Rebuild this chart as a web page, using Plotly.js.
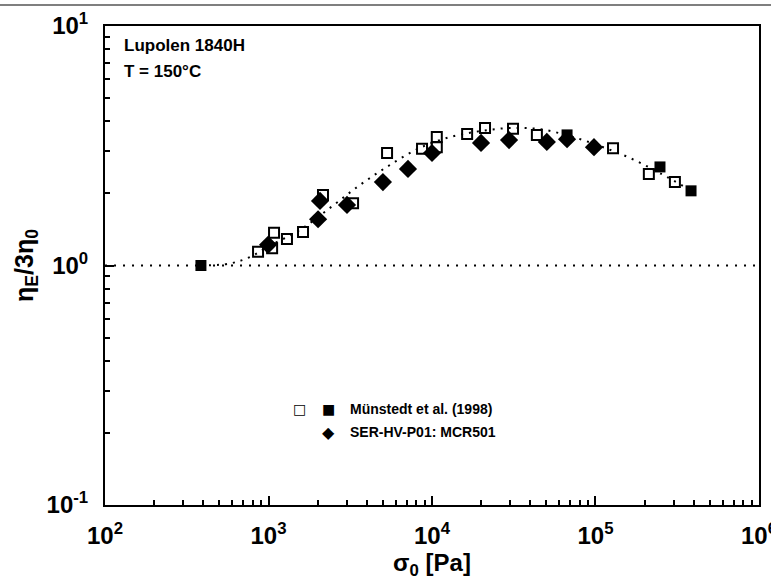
<!DOCTYPE html>
<html>
<head>
<meta charset="utf-8">
<script src="https://cdn.plot.ly/plotly-3.0.1.min.js"></script>
<style>html,body{margin:0;padding:0;background:#fff;}#chart{width:771px;height:588px;}</style>
</head>
<body>
<div id="chart"></div>
<script>
// Münstedt et al. (1998) – open squares
const munOpenX = [863, 1052, 1081, 1297, 1626, 2154, 3290, 5310, 8690, 10700, 10700, 16400, 21100, 31300, 43800, 128000, 212000, 306000];
const munOpenY = [1.14, 1.18, 1.37, 1.29, 1.38, 1.97, 1.82, 2.95, 3.07, 3.44, 3.12, 3.54, 3.75, 3.72, 3.51, 3.09, 2.41, 2.23];
// Münstedt et al. (1998) – filled squares
const munFillX = [386, 67000, 248000, 384000];
const munFillY = [1.00, 3.51, 2.58, 2.05];
// SER-HV-P01: MCR501 – filled diamonds
const serX = [994, 2010, 2065, 3020, 5010, 7130, 10000, 19950, 29600, 50400, 67000, 97900];
const serY = [1.22, 1.56, 1.86, 1.79, 2.23, 2.53, 2.95, 3.25, 3.34, 3.28, 3.37, 3.12];
// dotted guide curve through the data
const fitX = [386, 582, 771, 1021, 1560, 2378, 3630, 5530, 8450, 12900, 19700, 30000, 45800, 69900, 107000, 163000, 248000, 378000];
const fitY = [1.00, 1.02, 1.085, 1.21, 1.41, 1.74, 2.17, 2.63, 3.10, 3.44, 3.64, 3.75, 3.71, 3.47, 3.15, 2.81, 2.43, 2.07];
// reference line eta_E/3eta_0 = 1
const refX = [100, 1000000];
const refY = [1, 1];

const xTickVals = [100, 1000, 10000, 100000, 1000000];
const xTickText = ['<b>10<sup>2</sup></b>', '<b>10<sup>3</sup></b>', '<b>10<sup>4</sup></b>', '<b>10<sup>5</sup></b>', '<b>10<sup>6</sup></b>'];
const yTickVals = [0.1, 1, 10];
const yTickText = ['<b>10<sup>-1</sup></b>', '<b>10<sup>0</sup></b>', '<b>10<sup>1</sup></b>'];

const FONT = 'Liberation Sans, Arial, sans-serif';

const traces = [
  {x: refX, y: refY, mode: 'lines', line: {color: '#000', width: 2.2, dash: '2px,7px'}, hoverinfo: 'skip'},
  {x: fitX, y: fitY, mode: 'lines', line: {color: '#000', width: 2, dash: '2px,6px', shape: 'spline'}, hoverinfo: 'skip'},
  {x: munOpenX, y: munOpenY, mode: 'markers', marker: {symbol: 'square-open', size: 10, color: '#000', line: {width: 2, color: '#000'}}},
  {x: serX, y: serY, mode: 'markers', marker: {symbol: 'diamond', size: 14, color: '#000'}},
  {x: munFillX, y: munFillY, mode: 'markers', marker: {symbol: 'square', size: 11, color: '#000'}}
];

const layout = {
  width: 771, height: 588,
  margin: {l: 105, r: 12, t: 26, b: 83},
  paper_bgcolor: '#fff', plot_bgcolor: '#fff',
  showlegend: false,
  font: {family: FONT, color: '#000'},
  xaxis: {
    type: 'log', range: [1.9999, 6.0001],
    showgrid: false, zeroline: false,
    showline: true, linecolor: '#000', linewidth: 2, mirror: true,
    ticks: 'inside', ticklen: 9, tickwidth: 2, tickcolor: '#000',
    tickvals: xTickVals, ticktext: xTickText, ticklabelstandoff: 8, ticklabeloverflow: 'allow',
    tickfont: {family: FONT, size: 24, color: '#000'},
    minor: {ticks: 'inside', ticklen: 5, tickwidth: 2, tickcolor: '#000', dtick: 'D1', showgrid: false},
    title: {text: '<b>σ<sub>0</sub> [Pa]</b>', font: {family: FONT, size: 24, color: '#000'}, standoff: 4}
  },
  yaxis: {
    type: 'log', range: [-1.0001, 1.0001],
    showgrid: false, zeroline: false,
    showline: true, linecolor: '#000', linewidth: 2, mirror: true,
    ticks: 'inside', ticklen: 9, tickwidth: 2, tickcolor: '#000',
    tickvals: yTickVals, ticktext: yTickText, ticklabelstandoff: 10,
    tickfont: {family: FONT, size: 24, color: '#000'},
    minor: {ticks: 'inside', ticklen: 5, tickwidth: 2, tickcolor: '#000', dtick: 'D1', showgrid: false},
    title: {text: '<b>η<sub>E</sub>/3η<sub>0</sub></b>', font: {family: FONT, size: 25, color: '#000'}, standoff: 6}
  },
  shapes: [
    {type: 'line', xref: 'paper', yref: 'paper', x0: -0.161, x1: 1.02, y0: 1.044, y1: 1.044, line: {color: '#555', width: 1.5}}
  ],
  annotations: [
    {xref: 'paper', yref: 'paper', x: 0.026, y: 0.96, xanchor: 'left', yanchor: 'middle', showarrow: false,
     text: '<b>Lupolen 1840H</b>', font: {family: FONT, size: 17, color: '#000'}},
    {xref: 'paper', yref: 'paper', x: 0.026, y: 0.905, xanchor: 'left', yanchor: 'middle', showarrow: false,
     text: '<b>T = 150°C</b>', font: {family: FONT, size: 17, color: '#000'}},
    {xref: 'paper', yref: 'paper', x: 0.298, y: 0.2, xanchor: 'center', yanchor: 'middle', showarrow: false,
     text: '□', font: {family: 'DejaVu Sans', size: 14, color: '#000'}},
    {xref: 'paper', yref: 'paper', x: 0.342, y: 0.2, xanchor: 'center', yanchor: 'middle', showarrow: false,
     text: '■', font: {family: 'DejaVu Sans', size: 14, color: '#000'}},
    {xref: 'paper', yref: 'paper', x: 0.342, y: 0.152, xanchor: 'center', yanchor: 'middle', showarrow: false,
     text: '◆', font: {family: 'DejaVu Sans', size: 16, color: '#000'}},
    {xref: 'paper', yref: 'paper', x: 0.372, y: 0.2, xanchor: 'left', yanchor: 'middle', showarrow: false,
     text: '<b>Münstedt et al. (1998)</b>', font: {family: FONT, size: 14, color: '#000'}},
    {xref: 'paper', yref: 'paper', x: 0.372, y: 0.152, xanchor: 'left', yanchor: 'middle', showarrow: false,
     text: '<b>SER-HV-P01: MCR501</b>', font: {family: FONT, size: 14, color: '#000'}}
  ]
};

Plotly.newPlot('chart', traces, layout, {displayModeBar: false, staticPlot: true});
</script>
</body>
</html>
